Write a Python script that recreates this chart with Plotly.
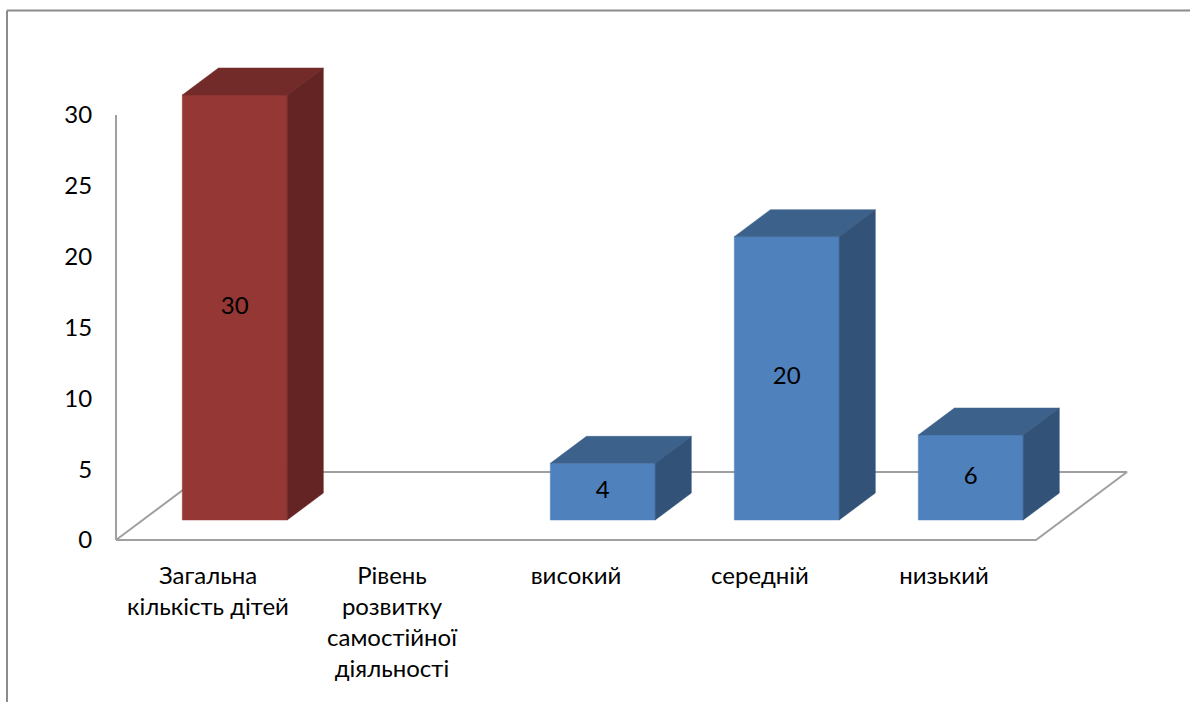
import plotly.graph_objects as go

# ---- data ----
categories = ["Загальна<br>кількість дітей", "Рівень<br>розвитку<br>самостійної<br>діяльності",
              "високий", "середній", "низький"]
values = [30, None, 4, 20, 6]
y_ticks = [0, 5, 10, 15, 20, 25, 30]

# ---- style ----
front_cols = ["#953735", None, "#4F81BD", "#4F81BD", "#4F81BD"]
top_cols = ["#722B29", None, "#3C628C", "#3C628C", "#3C628C"]
side_cols = ["#632423", None, "#325278", "#325278", "#325278"]
line_col = "#A0A0A0"
FONT = "Lato"
FS = 24

W, H = 1190, 702
px_per_cat = 184.0
px_per_val = 425.0 / 30.0
x0_px = 208.0      # pixel of category 0 label centre
y0_px = 540.0      # pixel of value 0 (front floor edge)

# oblique depth vector (whole floor depth) in data units
ddx = 91.0 / px_per_cat
ddy = 68.0 / px_per_val
f0, f1 = 0.294, 0.691   # bar front / back depth fractions
hw = 0.285               # half bar width (categories)

xr = [(0 - x0_px) / px_per_cat, (W - x0_px) / px_per_cat]
yr = [(y0_px - H) / px_per_val, y0_px / px_per_val]

fig = go.Figure()

# floor parallelogram
n = len(categories)
fx = [-0.5, n - 0.5, n - 0.5 + ddx, -0.5 + ddx, -0.5]
fy = [0, 0, ddy, ddy, 0]
fig.add_trace(go.Scatter(x=fx, y=fy, mode="lines", line=dict(color=line_col, width=2),
                         hoverinfo="skip", showlegend=False))

for i, v in enumerate(values):
    if v is None:
        continue
    xl0 = i - hw + f0 * ddx
    xr0 = i + hw + f0 * ddx
    xl1 = i - hw + f1 * ddx
    xr1 = i + hw + f1 * ddx
    yb0 = f0 * ddy
    yb1 = f1 * ddy
    yt0 = v + yb0
    yt1 = v + yb1
    # front
    fig.add_trace(go.Scatter(x=[xl0, xr0, xr0, xl0, xl0], y=[yb0, yb0, yt0, yt0, yb0],
                             fill="toself", fillcolor=front_cols[i], mode="lines",
                             line=dict(color=front_cols[i], width=0.5),
                             hoverinfo="skip", showlegend=False))
    # top
    fig.add_trace(go.Scatter(x=[xl0, xr0, xr1, xl1, xl0], y=[yt0, yt0, yt1, yt1, yt0],
                             fill="toself", fillcolor=top_cols[i], mode="lines",
                             line=dict(color=top_cols[i], width=0.5),
                             hoverinfo="skip", showlegend=False))
    # side
    fig.add_trace(go.Scatter(x=[xr0, xr1, xr1, xr0, xr0], y=[yb0, yb1, yt1, yt0, yb0],
                             fill="toself", fillcolor=side_cols[i], mode="lines",
                             line=dict(color=side_cols[i], width=0.5),
                             hoverinfo="skip", showlegend=False))
    # value label
    fig.add_trace(go.Scatter(x=[i + f0 * ddx], y=[yb0 + v / 2], mode="text", text=[str(v)],
                             textfont=dict(family=FONT, size=FS, color="black"),
                             hoverinfo="skip", showlegend=False))

# dummy trace for the value axis
fig.add_trace(go.Scatter(x=[None], y=[None], yaxis="y2", showlegend=False, hoverinfo="skip"))

fig.update_layout(
    width=W, height=H, autosize=False, showlegend=False,
    margin=dict(l=0, r=0, t=0, b=0, pad=0, autoexpand=False),
    paper_bgcolor="white", plot_bgcolor="rgba(0,0,0,0)",
    font=dict(family=FONT, size=FS, color="black"),
    xaxis=dict(range=xr, showgrid=False, zeroline=False, showline=False, automargin=False,
               tickmode="array", tickvals=list(range(n)), ticktext=categories,
               ticks="outside", ticklen=14, tickcolor="rgba(0,0,0,0)",
               anchor="free", position=(H - y0_px) / H, fixedrange=True,
               tickfont=dict(family=FONT, size=FS, color="black")),
    yaxis=dict(range=yr, visible=False, fixedrange=True, automargin=False),
    yaxis2=dict(range=[0, 30], domain=[(H - y0_px) / H, (H - (y0_px - 30 * px_per_val)) / H],
                anchor="free", position=116.0 / W, side="left", automargin=False,
                showline=True, linecolor=line_col, linewidth=2,
                showgrid=False, zeroline=False,
                tickmode="array", tickvals=y_ticks,
                ticks="outside", ticklen=18, tickcolor="rgba(0,0,0,0)",
                tickfont=dict(family=FONT, size=FS, color="black"), fixedrange=True),
    shapes=[
        dict(type="line", xref="paper", yref="paper", x0=7.0 / W, x1=7.0 / W,
             y0=-0.05, y1=1 - 10.5 / H, line=dict(color="#8C8C8C", width=2)),
        dict(type="line", xref="paper", yref="paper", x0=7.0 / W, x1=1.05,
             y0=1 - 10.5 / H, y1=1 - 10.5 / H, line=dict(color="#8C8C8C", width=2)),
    ],
)

fig.write_html("out.html", config={"displayModeBar": False})
